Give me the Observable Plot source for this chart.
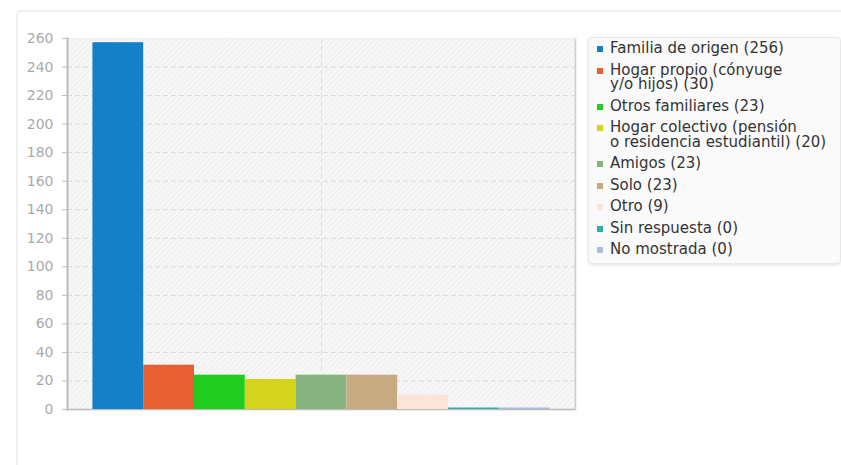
<!DOCTYPE html>
<html>
<head>
<meta charset="utf-8">
<script src="https://cdn.jsdelivr.net/npm/d3@7"></script>
<script src="https://cdn.jsdelivr.net/npm/@observablehq/plot@0.6"></script>
<style>
  html, body { margin: 0; padding: 0; background: #fff; width: 841px; height: 465px; overflow: hidden; font-family: "DejaVu Sans", sans-serif; }
  #card { position: absolute; left: 16px; top: 10px; width: 900px; height: 520px; border: 2px solid #f0f0f0; border-radius: 5px; background: #fff; }
  #chart { position: absolute; left: 0; top: 0; }
  #legend { position: absolute; left: 588px; top: 37px; width: 251px; height: 222px; background: #fafafa; border: 1px solid #e8e8e8; border-radius: 4px; box-shadow: 0 1px 3px rgba(0,0,0,0.12); padding-top: 3px; box-sizing: content-box; }
  .item { display: flex; align-items: flex-start; font-size: 15px; line-height: 14.5px; color: #333; margin-bottom: 7px; white-space: pre; }
  .sw { width: 6px; height: 6px; margin-left: 8px; margin-right: 7px; margin-top: 5px; flex: none; }
</style>
</head>
<body>
<div id="card"></div>
<div id="chart"></div>
<div id="legend"></div>
<script>
const categories = [
  "Familia de origen",
  "Hogar propio (cónyuge y/o hijos)",
  "Otros familiares",
  "Hogar colectivo (pensión o residencia estudiantil)",
  "Amigos",
  "Solo",
  "Otro",
  "Sin respuesta",
  "No mostrada"
];
const values = [256, 30, 23, 20, 23, 23, 9, 0, 0];
const colors = ["#1380c8", "#e66034", "#20cc20", "#d4d41c", "#86b37f", "#c8aa80", "#fbe4da", "#2ab3a5", "#a8bddb"];
const legendLabels = [
  "Familia de origen (256)",
  "Hogar propio (cónyuge\ny/o hijos) (30)",
  "Otros familiares (23)",
  "Hogar colectivo (pensión\no residencia estudiantil) (20)",
  "Amigos (23)",
  "Solo (23)",
  "Otro (9)",
  "Sin respuesta (0)",
  "No mostrada (0)"
];
const yTicks = [0, 20, 40, 60, 80, 100, 120, 140, 160, 180, 200, 220, 240, 260];

const data = categories.map((c, i) => ({cat: c, value: values[i]}));

const chart = Plot.plot({
  width: 841,
  height: 465,
  marginLeft: 67,
  marginRight: 266,
  marginTop: 38,
  marginBottom: 56,
  style: {fontFamily: "DejaVu Sans", fontSize: "14px", background: "transparent", overflow: "visible"},
  x: {domain: categories, paddingInner: 0, paddingOuter: 0.5, round: false, axis: null},
  y: {domain: [0, 260], ticks: yTicks, label: null},
  color: {domain: categories, range: colors},
  marks: [
    Plot.frame({fill: "url(#hatch)", stroke: null}),
    Plot.gridY(yTicks.filter(d => d > 0), {stroke: "#d9d9d9", strokeOpacity: 1, strokeDasharray: "5,3"}),
    Plot.ruleX(["Amigos"], {stroke: "#dddddd", strokeDasharray: "5,3"}),
    Plot.ruleY([0], {stroke: "#bbbbbb", strokeWidth: 1.5}),
    Plot.barY(data, {x: "cat", y: "value", fill: "cat", insetTop: -1.5}),
    Plot.frame({anchor: "right", stroke: "#cccccc", strokeWidth: 1.5}),
    Plot.frame({anchor: "top", stroke: "#eeeeee"}),
    Plot.axisY({ticks: yTicks, tickSize: 5, tickPadding: 9, color: "#aaaaaa", stroke: "#bbbbbb", fontSize: 14, label: null}),
    Plot.frame({anchor: "left", stroke: "#bbbbbb", strokeWidth: 2})
  ]
});

const ns = "http://www.w3.org/2000/svg";
const defs = document.createElementNS(ns, "defs");
const pat = document.createElementNS(ns, "pattern");
pat.setAttribute("id", "hatch");
pat.setAttribute("width", "4");
pat.setAttribute("height", "4");
pat.setAttribute("patternUnits", "userSpaceOnUse");
pat.setAttribute("patternTransform", "rotate(45)");
const bg = document.createElementNS(ns, "rect");
bg.setAttribute("width", "4"); bg.setAttribute("height", "4"); bg.setAttribute("fill", "#f7f7f7");
const ln = document.createElementNS(ns, "line");
ln.setAttribute("x1", "0"); ln.setAttribute("y1", "0"); ln.setAttribute("x2", "0"); ln.setAttribute("y2", "4");
ln.setAttribute("stroke", "#ececec"); ln.setAttribute("stroke-width", "1.5");
pat.appendChild(bg); pat.appendChild(ln); defs.appendChild(pat);
chart.prepend(defs);
document.getElementById("chart").appendChild(chart);

const legend = document.getElementById("legend");
legendLabels.forEach((t, i) => {
  const it = document.createElement("div");
  it.className = "item";
  const sw = document.createElement("span");
  sw.className = "sw";
  sw.style.background = colors[i];
  const tx = document.createElement("span");
  tx.textContent = t;
  it.appendChild(sw); it.appendChild(tx);
  legend.appendChild(it);
});
</script>
</body>
</html>
